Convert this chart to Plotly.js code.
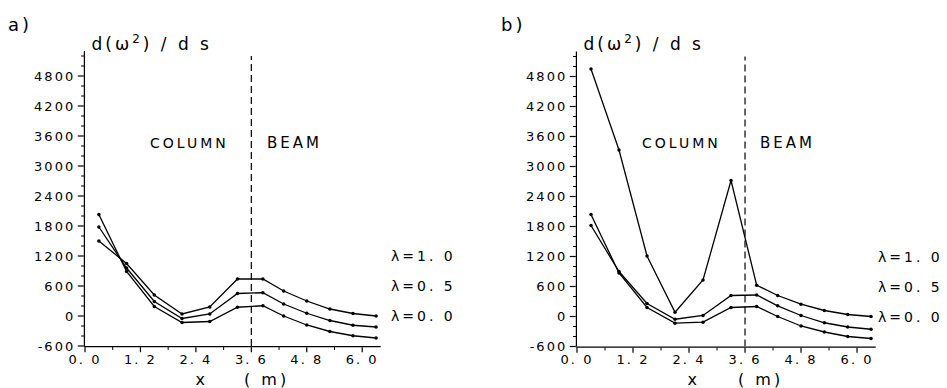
<!DOCTYPE html>
<html>
<head>
<meta charset="utf-8">
<script src="https://cdn.plot.ly/plotly-3.0.1.min.js"></script>
<style>
  html, body { margin: 0; padding: 0; background: #fff; }
  #chart svg text { letter-spacing: 2px; }
  #chart svg text.annotation-text { letter-spacing: 3px; }
  #chart path { shape-rendering: auto !important; }
</style>
</head>
<body>
<div id="chart" style="width:947px;height:388px;"></div>
<script>
// Element positions along the frame (m)
const xPos = [0.3, 0.9, 1.5, 2.1, 2.7, 3.3, 3.85, 4.3, 4.8, 5.3, 5.8, 6.3];

// Panel a) d(w^2)/ds
const aLam10 = [1500, 1050, 420, 40, 180, 740, 740, 500, 300, 140, 50, 0];
const aLam05 = [1780, 960, 290, -50, 40, 450, 465, 240, 55, -90, -185, -220];
const aLam00 = [2030, 890, 190, -130, -110, 175, 205, 0, -180, -310, -395, -440];

// Panel b) d(w^2)/ds
const bLam10 = [4950, 3330, 1210, 85, 730, 2720, 625, 420, 247, 120, 40, 0];
const bLam05 = [1820, 900, 260, -55, 20, 420, 430, 213, 20, -125, -210, -255];
const bLam00 = [2040, 870, 180, -133, -113, 180, 200, 0, -190, -310, -400, -440];

const yTickVals = [-600, 0, 600, 1200, 1800, 2400, 3000, 3600, 4200, 4800];
const yTickText = ['-600', '0', '600', '1200', '1800', '2400', '3000', '3600', '4200', '4800'];
const yMinorVals = [-400, -200, 200, 400, 800, 1000, 1400, 1600, 2000, 2200, 2600, 2800,
                    3200, 3400, 3800, 4000, 4400, 4600, 5000, 5200];
const xTickVals = [0, 1.2, 2.4, 3.6, 4.8, 6.0];
const xTickText = ['0. 0', '1. 2', '2. 4', '3. 6', '4. 8', '6. 0'];
const xMinorVals = [0.6, 1.8, 3.0, 4.2, 5.4];
const lamLabels = ['λ=1. 0', 'λ=0. 5', 'λ=0. 0'];
const lamLevels = [1200, 600, 0];
const boundary = 3.6;

const FONT = 'DejaVu Sans';
const X_RANGE = [0, 6.4], Y_RANGE = [-600, 5300];

function tr(y, xa, ya) {
  return {x: xPos, y: y, xaxis: xa, yaxis: ya, mode: 'lines+markers', type: 'scatter',
          line: {color: 'black', width: 1.3}, marker: {color: 'black', size: 3.5},
          showlegend: false, hoverinfo: 'skip'};
}
function ghost(xa, ya) {
  return {x: [null], y: [null], xaxis: xa, yaxis: ya, mode: 'markers', type: 'scatter',
          showlegend: false, hoverinfo: 'skip'};
}

const data = [
  tr(aLam10, 'x', 'y'), tr(aLam05, 'x', 'y'), tr(aLam00, 'x', 'y'),
  tr(bLam10, 'x2', 'y2'), tr(bLam05, 'x2', 'y2'), tr(bLam00, 'x2', 'y2'),
  ghost('x3', 'y3'), ghost('x4', 'y4')
];

function xAxis(domain, anchor) {
  return {domain: domain, anchor: anchor, range: X_RANGE, showgrid: false, zeroline: false,
          showline: true, linecolor: 'black', linewidth: 1.2,
          tickmode: 'array', tickvals: xTickVals, ticktext: xTickText,
          ticks: 'outside', ticklen: 5, tickwidth: 1.2, tickcolor: 'black', ticklabelstandoff: -4,
          tickfont: {family: FONT, size: 13, color: 'black'}, fixedrange: true};
}
function yAxis(domain, anchor) {
  return {domain: domain, anchor: anchor, range: Y_RANGE, showgrid: false, zeroline: false,
          showline: true, linecolor: 'black', linewidth: 1.2,
          tickmode: 'array', tickvals: yTickVals, ticktext: yTickText,
          ticks: 'outside', ticklen: 6, tickwidth: 1.2, tickcolor: 'black',
          tickfont: {family: FONT, size: 13, color: 'black'}, fixedrange: true};
}
function xMinor(domain, anchor, over) {
  return {domain: domain, anchor: anchor, overlaying: over, side: 'bottom', range: X_RANGE,
          showgrid: false, zeroline: false, showline: false, showticklabels: false,
          tickmode: 'array', tickvals: xMinorVals, ticks: 'outside', ticklen: 3, tickwidth: 1,
          tickcolor: 'black', fixedrange: true};
}
function yMinor(domain, anchor, over) {
  return {domain: domain, anchor: anchor, overlaying: over, side: 'left', range: Y_RANGE,
          showgrid: false, zeroline: false, showline: false, showticklabels: false,
          tickmode: 'array', tickvals: yMinorVals, ticks: 'outside', ticklen: 3, tickwidth: 1,
          tickcolor: 'black', fixedrange: true};
}

const W = 947, H = 388;
const px = v => v / W;
const py = v => 1 - v / H;

function ann(text, x, y, size, xanchor) {
  return {text: text, xref: 'paper', yref: 'paper', x: px(x), y: py(y), showarrow: false,
          xanchor: xanchor || 'left', yanchor: 'middle', font: {family: FONT, size: size, color: 'black'}};
}

const annotations = [
  ann('a)', 9, 25, 18), ann('b)', 502, 25, 18),
  ann('d(ω<sup>2</sup>) / d s', 106, 43, 17), ann('d(ω<sup>2</sup>) / d s', 598, 43, 17),
  ann('COLUMN', 157, 143, 14), ann('BEAM', 271, 143, 15),
  ann('COLUMN', 649, 143, 14), ann('BEAM', 764, 143, 15),
  ann('x', 201, 379, 16, 'center'), ann('( m)', 248, 379, 16),
  ann('x', 693, 379, 16, 'center'), ann('( m)', 742, 379, 16)
];
lamLabels.forEach((t, i) => {
  annotations.push({text: t, xref: 'paper', yref: 'y', x: px(398), y: lamLevels[i], showarrow: false,
    xanchor: 'left', yanchor: 'middle', font: {family: FONT, size: 14, color: 'black'}});
  annotations.push({text: t, xref: 'paper', yref: 'y2', x: px(885), y: lamLevels[i], showarrow: false,
    xanchor: 'left', yanchor: 'middle', font: {family: FONT, size: 14, color: 'black'}});
});

const shapes = [
  {type: 'line', xref: 'x', yref: 'y', x0: boundary, x1: boundary, y0: -600, y1: 5200,
   line: {color: 'black', width: 1.2, dash: '7px,4px'}},
  {type: 'line', xref: 'x2', yref: 'y2', x0: boundary, x1: boundary, y0: -600, y1: 5200,
   line: {color: 'black', width: 1.2, dash: '7px,4px'}}
];

const dxA = [px(85), px(380.7)], dxB = [px(577), px(875.7)];
const dyA = [1 - 346 / H, 1 - 51 / H], dyB = [1 - 346.5 / H, 1 - 51.5 / H];

const layout = {
  width: W, height: H, margin: {l: 0, r: 0, t: 0, b: 0, pad: 0},
  paper_bgcolor: 'white', plot_bgcolor: 'rgba(0,0,0,0)', showlegend: false,
  font: {family: FONT, color: 'black'},
  xaxis: xAxis(dxA, 'y'), yaxis: yAxis(dyA, 'x'),
  xaxis2: xAxis(dxB, 'y2'), yaxis2: yAxis(dyB, 'x2'),
  xaxis3: xMinor(dxA, 'y3', 'x'), yaxis3: yMinor(dyA, 'x3', 'y'),
  xaxis4: xMinor(dxB, 'y4', 'x2'), yaxis4: yMinor(dyB, 'x4', 'y2'),
  annotations: annotations, shapes: shapes
};

Plotly.newPlot('chart', data, layout, {displayModeBar: false, staticPlot: true});
</script>
</body>
</html>
